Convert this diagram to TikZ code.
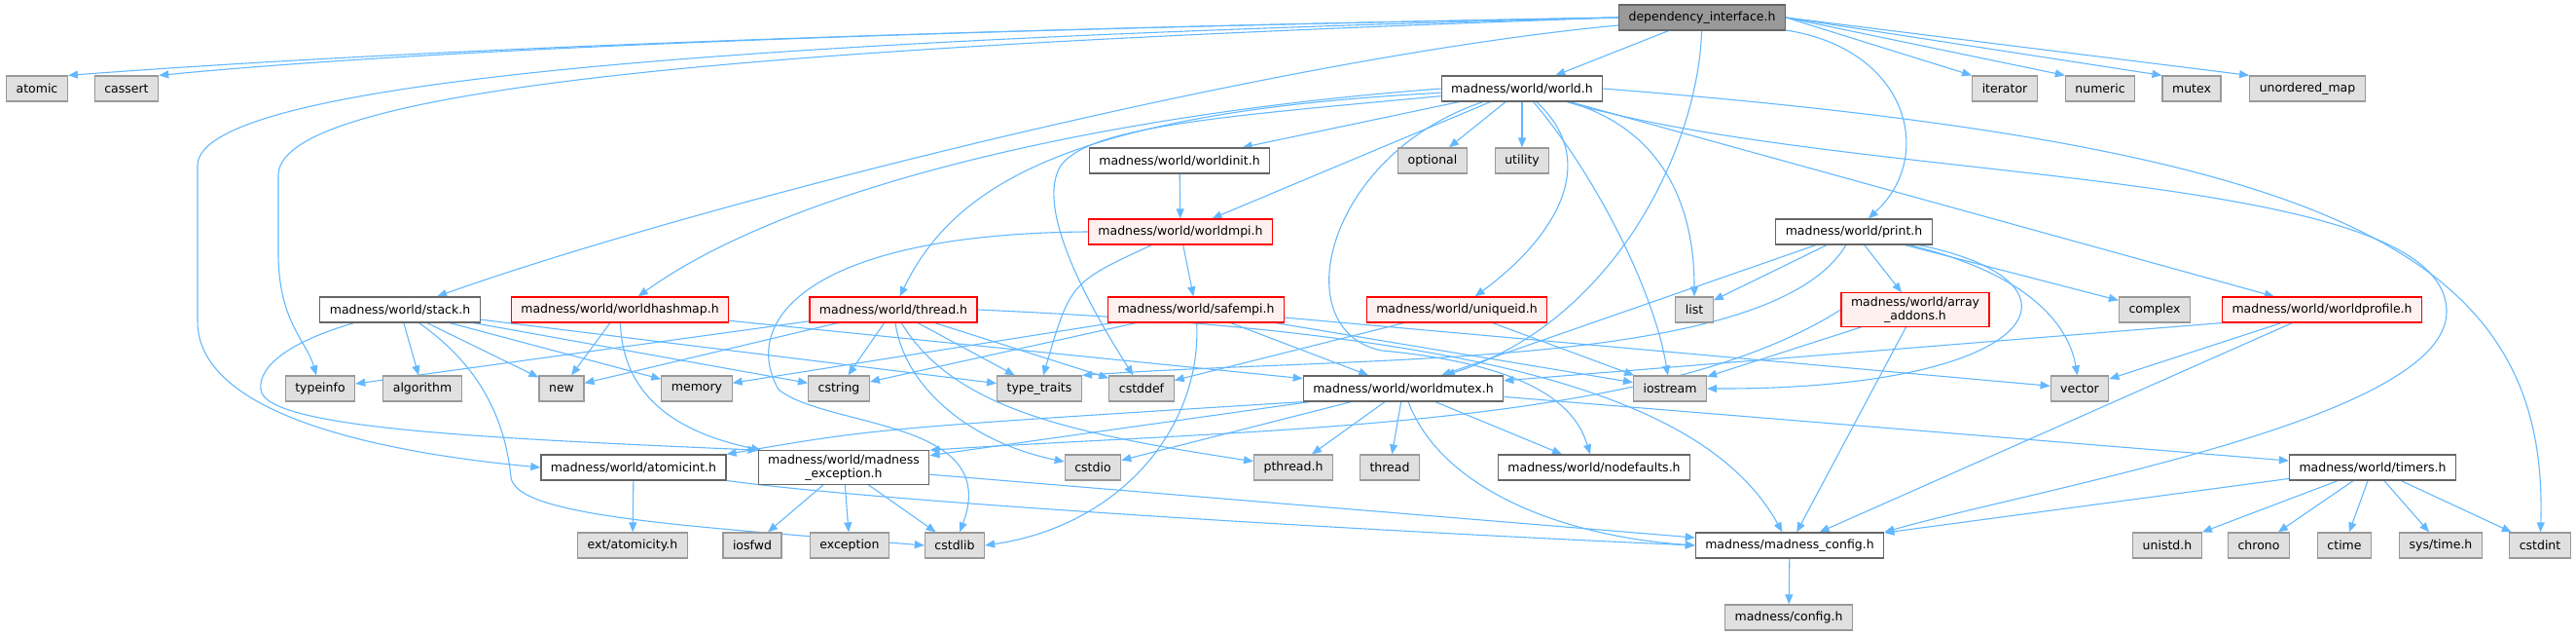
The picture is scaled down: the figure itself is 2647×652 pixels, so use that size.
\documentclass[tikz,border=0pt]{standalone}
\usepackage{fontspec}
\setmainfont{DejaVu Sans}
\usetikzlibrary{arrows.meta,backgrounds}
\definecolor{dxedge}{HTML}{63B8FF}
\definecolor{dxgrayfill}{HTML}{E0E0E0}
\definecolor{dxgrayline}{HTML}{999999}
\definecolor{dxline}{HTML}{666666}
\definecolor{dxredfill}{HTML}{FFF0F0}
\definecolor{dxred}{HTML}{FF0000}
\definecolor{dxroot}{HTML}{999999}
\newcommand{\dxfont}{\fontsize{12.5}{14}\selectfont}
\tikzset{
  bx/.style={rectangle, line width=1.2pt, align=center, font=\dxfont, inner xsep=10pt, inner ysep=4pt, minimum height=26pt},
  rootbx/.style={bx, draw=dxline, fill=dxroot},
  hdr/.style={bx, draw=dxline, fill=white},
  sysh/.style={bx, draw=dxgrayline, fill=dxgrayfill},
  trunc/.style={bx, draw=dxred, fill=dxredfill},
  inc/.style={-{Triangle[length=10pt, width=8pt]}, line width=1.1pt, draw=dxedge},
}
\begin{document}
\begin{tikzpicture}[x=1pt, y=-1pt]
  \useasboundingbox (0,0) rectangle (2647,652);
  \node[rootbx] (dep) at (1749,18) {dependency\_interface.h};
  \node[sysh] (atomic) at (38,91) {atomic};
  \node[sysh] (cassert) at (130,91) {cassert};
  \node[hdr] (world) at (1564,91) {madness/world/world.h};
  \node[sysh] (iterator) at (2060,91) {iterator};
  \node[sysh] (numeric) at (2158,91) {numeric};
  \node[sysh] (mutex) at (2252,91) {mutex};
  \node[sysh] (umap) at (2371,91) {unordered\_map};
  \node[hdr] (worldinit) at (1212,165) {madness/world/worldinit.h};
  \node[sysh] (optional) at (1472,165) {optional};
  \node[sysh] (utility) at (1564,165) {utility};
  \node[trunc] (worldmpi) at (1213,238) {madness/world/worldmpi.h};
  \node[hdr] (print) at (1905,238) {madness/world/print.h};
  \node[hdr] (stack) at (411,318) {madness/world/stack.h};
  \node[trunc] (hashmap) at (637,318) {madness/world/worldhashmap.h};
  \node[trunc] (thread) at (918,318) {madness/world/thread.h};
  \node[trunc] (safempi) at (1229,318) {madness/world/safempi.h};
  \node[trunc] (uniqueid) at (1497,318) {madness/world/uniqueid.h};
  \node[sysh] (list) at (1741,318) {list};
  \node[trunc] (addons) at (1968,318) {madness/world/array\\\_addons.h};
  \node[sysh] (complex) at (2214,318) {complex};
  \node[trunc] (profile) at (2386,318) {madness/world/worldprofile.h};
  \node[sysh] (typeinfo) at (329,399) {typeinfo};
  \node[sysh] (algorithm) at (434,399) {algorithm};
  \node[sysh] (new) at (577,399) {new};
  \node[sysh] (memory) at (716,399) {memory};
  \node[sysh] (cstring) at (862,399) {cstring};
  \node[sysh] (typetraits) at (1068,399) {type\_traits};
  \node[sysh] (cstddef) at (1173,399) {cstddef};
  \node[hdr] (wmutex) at (1442,399) {madness/world/worldmutex.h};
  \node[sysh] (iostream) at (1716,399) {iostream};
  \node[sysh] (vector) at (2137,399) {vector};
  \node[hdr] (atomicint) at (651,480) {madness/world/atomicint.h};
  \node[hdr] (mexcept) at (867,480) {madness/world/madness\\\_exception.h};
  \node[sysh] (cstdio) at (1123,480) {cstdio};
  \node[sysh] (pthread) at (1329,480) {pthread.h};
  \node[sysh] (stdthread) at (1428,480) {thread};
  \node[hdr] (nodefaults) at (1638,480) {madness/world/nodefaults.h};
  \node[hdr] (timers) at (2438,480) {madness/world/timers.h};
  \node[sysh] (extatom) at (650,560) {ext/atomicity.h};
  \node[sysh] (iosfwd) at (773,560) {iosfwd};
  \node[sysh] (exception) at (873,560) {exception};
  \node[sysh] (cstdlib) at (981,560) {cstdlib};
  \node[hdr] (mconfig) at (1839,560) {madness/madness\_config.h};
  \node[sysh] (unistd) at (2227,560) {unistd.h};
  \node[sysh] (chrono) at (2321,560) {chrono};
  \node[sysh] (ctime) at (2409,560) {ctime};
  \node[sysh] (systime) at (2508,560) {sys/time.h};
  \node[sysh] (cstdint) at (2610,560) {cstdint};
  \node[sysh] (config) at (1838,634) {madness/config.h};
  \begin{scope}[on background layer]
    \foreach \tgt in {atomic, cassert} \draw[inc] (dep.west) .. controls (1100,28) and (500,45) .. (\tgt.north east);
    \foreach \tgt in {iterator, numeric, mutex, umap} \draw[inc] (dep.east) -- (\tgt.north west);
    \draw[inc] (dep) -- (world);
    \draw[inc] (dep) .. controls (1300,60) and (700,215) .. (stack);
    \draw[inc] (dep) .. controls (1745,150) and (1660,330) .. (wmutex);
    \draw[inc] (dep) .. controls (1960,50) and (1990,160) .. (print);
    \draw[inc] (dep.west) .. controls (800,40) and (203,80) .. (203,170) -- (203,330) .. controls (203,440) and (450,470) .. (atomicint.west);
    \draw[inc] (dep.west) .. controls (900,45) and (286,80) .. (286,180) -- (286,260) .. controls (286,330) and (315,350) .. (typeinfo);
    \foreach \tgt in {optional, utility, worldinit, worldmpi, profile} \draw[inc] (world) -- (\tgt);
    \draw[inc] (world.west) .. controls (1100,120) and (800,200) .. (hashmap);
    \draw[inc] (world) .. controls (1100,115) and (980,190) .. (thread);
    \draw[inc] (world) .. controls (1250,120) and (1120,130) .. (1090,170) .. controls (1065,210) and (1110,300) .. (cstddef);
    \draw[inc] (world) .. controls (1360,160) and (1320,340) .. (1420,360) .. controls (1580,375) and (1620,420) .. (nodefaults);
    \draw[inc] (world) .. controls (1650,170) and (1590,250) .. (uniqueid);
    \draw[inc] (world) .. controls (1700,130) and (1741,200) .. (list);
    \draw[inc] (world) .. controls (1640,180) and (1700,300) .. (iostream);
    \draw[inc] (world.east) .. controls (2400,150) and (2620,260) .. (cstdint);
    \draw[inc] (world) .. controls (1900,190) and (2514,170) .. (2514,320) .. controls (2514,430) and (2100,500) .. (mconfig.north east);
    \draw[inc] (worldinit) -- (worldmpi); \draw[inc] (worldmpi) -- (safempi);
    \draw[inc] (worldmpi) .. controls (1100,290) .. (typetraits);
    \draw[inc] (worldmpi.west) .. controls (830,240) and (760,330) .. (800,400) .. controls (850,440) and (1030,430) .. (cstdlib);
    \foreach \tgt in {algorithm, new, memory, cstring, typetraits} \draw[inc] (stack) -- (\tgt);
    \draw[inc] (stack) .. controls (300,350) and (265,375) .. (268,400) .. controls (272,440) and (500,450) .. (mexcept.north west);
    \draw[inc] (stack) .. controls (500,380) and (520,440) .. (525,490) .. controls (530,530) and (700,540) .. (cstdlib.west);
    \draw[inc] (hashmap) -- (new); \draw[inc] (hashmap) -- (wmutex);
    \draw[inc] (hashmap) .. controls (640,410) and (700,445) .. (mexcept);
    \foreach \tgt in {typeinfo, new, cstring, typetraits, cstddef} \draw[inc] (thread) -- (\tgt);
    \draw[inc] (thread) .. controls (930,400) and (1000,455) .. (cstdio);
    \draw[inc] (thread) .. controls (980,420) and (1100,445) .. (pthread);
    \draw[inc] (thread.east) .. controls (1500,340) and (1750,400) .. (mconfig);
    \foreach \tgt in {memory, cstring, wmutex, vector, iostream} \draw[inc] (safempi) -- (\tgt);
    \draw[inc] (safempi) .. controls (1235,440) and (1150,540) .. (cstdlib.east);
    \draw[inc] (uniqueid) -- (cstddef); \draw[inc] (uniqueid) -- (iostream);
    \foreach \tgt in {list, addons, complex, wmutex} \draw[inc] (print) -- (\tgt);
    \draw[inc] (print) .. controls (2080,280) and (2125,330) .. (vector);
    \draw[inc] (print) .. controls (2160,290) and (2100,400) .. (iostream.east);
    \draw[inc] (print) .. controls (1820,380) and (1400,365) .. (typetraits.north east);
    \draw[inc] (addons) -- (iostream); \draw[inc] (addons) -- (mconfig);
    \draw[inc] (addons.west) .. controls (1700,440) and (1300,440) .. (mexcept.north east);
    \draw[inc] (profile) -- (vector); \draw[inc] (profile.south west) -- (wmutex); \draw[inc] (profile) -- (mconfig);
    \foreach \tgt in {mexcept, cstdio, pthread, stdthread, nodefaults, timers} \draw[inc] (wmutex) -- (\tgt);
    \draw[inc] (wmutex.south west) .. controls (900,440) .. (atomicint.north east);
    \draw[inc] (wmutex) .. controls (1480,500) and (1600,550) .. (mconfig.west);
    \draw[inc] (atomicint) -- (extatom);
    \draw[inc] (atomicint) .. controls (900,515) and (1400,545) .. (mconfig.west);
    \foreach \tgt in {iosfwd, exception, cstdlib, mconfig} \draw[inc] (mexcept) -- (\tgt);
    \foreach \tgt in {unistd, chrono, ctime, systime, cstdint, mconfig} \draw[inc] (timers) -- (\tgt);
    \draw[inc] (mconfig) -- (config);
  \end{scope}
\end{tikzpicture}
\end{document}
